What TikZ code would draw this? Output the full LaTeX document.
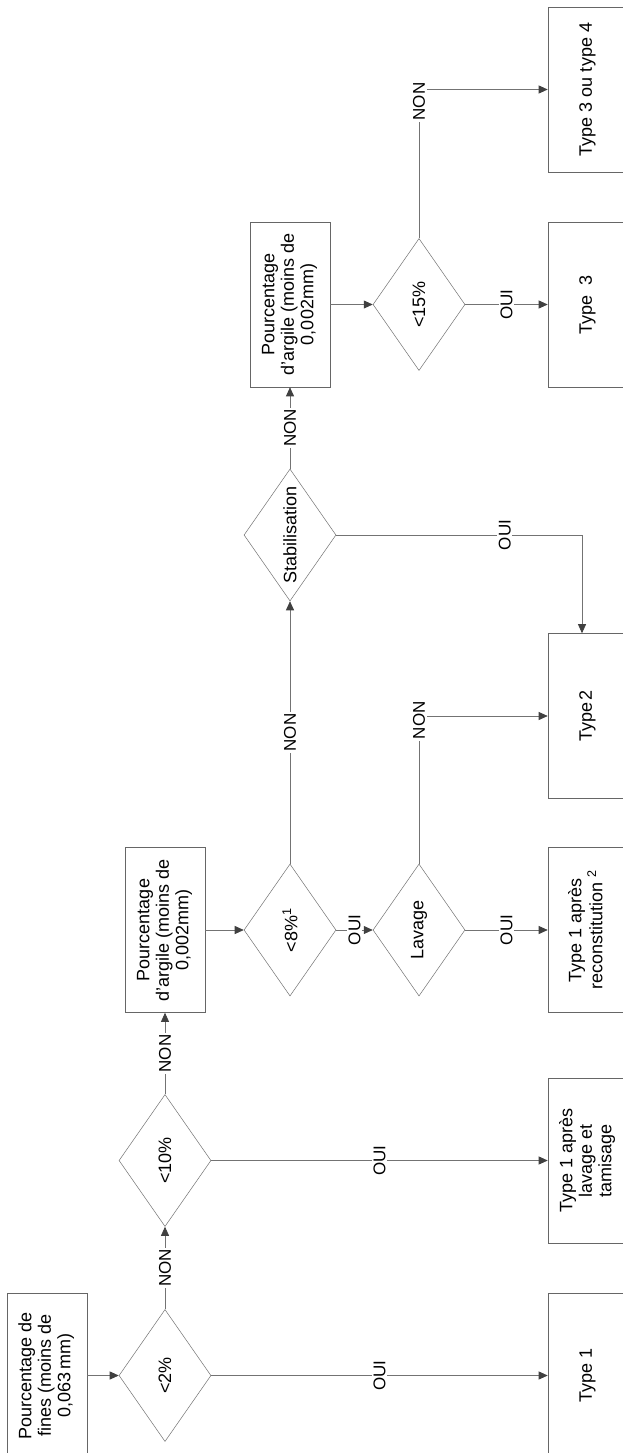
\documentclass[tikz,border=0pt]{standalone}
\usepackage{fontspec}
\setmainfont{Liberation Sans}
\usetikzlibrary{shapes.geometric,arrows.meta}
\newcommand{\rottxt}[1]{\rotatebox{90}{\begin{tabular}{@{}c@{}}#1\end{tabular}}}
\newcommand{\rotlab}[1]{\rotatebox{90}{#1}}
\begin{document}
\begin{tikzpicture}[x=1pt,y=-1pt,
  box/.style={draw=black!60, line width=0.6pt, rectangle, minimum width=80pt, minimum height=165pt, inner sep=0pt, font=\fontsize{18}{19.5}\selectfont},
  dec/.style={draw=black!55, line width=0.5pt, diamond, minimum width=92pt, minimum height=132pt, inner sep=0pt, aspect=0.7, font=\fontsize{18}{19.5}\selectfont},
  conn/.style={draw=black!55, line width=0.7pt, -{Triangle[length=9pt,width=8pt,color=black!75]}},
  lbl/.style={fill=white, inner sep=1.5pt, font=\fontsize{17}{18}\selectfont},
]
\useasboundingbox (0,0) rectangle (623,1453);
\fill[white] (0,0) rectangle (623,1453);

% nodes
\node[box] (b1) at (47,1375.5) {\rottxt{Pourcentage de\\fines (moins de\\0,063\,mm)}};
\node[dec] (d2) at (165,1375.5) {\rotlab{<2\%}};
\node[box] (t1) at (588,1375.5) {\rottxt{Type 1}};
\node[dec] (d10) at (165,1160.5) {\rotlab{<10\%}};
\node[box] (t1l) at (588,1160.5) {\rottxt{Type 1 après\\lavage et\\tamisage}};
\node[box] (b2) at (165,930) {\rottxt{Pourcentage\\d’argile (moins de\\0,002mm)}};
\node[dec] (d8) at (290,930) {\rotlab{<8\%\textsuperscript{1}}};
\node[dec] (lav) at (419,930) {\rotlab{Lavage}};
\node[box] (t1r) at (588,930) {\rottxt{Type 1 après\\reconstitution \textsuperscript{2}}};
\node[dec] (stab) at (290,535) {\rotlab{Stabilisation}};
\node[box] (t2) at (588,716) {\rottxt{Type\hspace{2.5pt}2}};
\node[box] (b3) at (290,304.5) {\rottxt{Pourcentage\\d’argile (moins de\\0,002mm)}};
\node[dec] (d15) at (419,304.5) {\rotlab{<15\%}};
\node[box] (t3) at (588,304.5) {\rottxt{Type\ \ 3}};
\node[box] (t34) at (588,89.5) {\rottxt{Type 3 ou type 4}};

% connectors
\draw[conn] (b1) -- (d2);
\draw[conn] (d2) -- node[lbl]{\rotlab{OUI}} (t1);
\draw[conn] (d2) -- node[lbl]{\rotlab{NON}} (d10);
\draw[conn] (d10) -- node[lbl]{\rotlab{OUI}} (t1l);
\draw[conn] (d10) -- node[lbl]{\rotlab{NON}} (b2);
\draw[conn] (b2) -- (d8);
\draw[conn] (d8) -- node[lbl]{\rotlab{OUI}} (lav);
\draw[conn] (lav) -- node[lbl]{\rotlab{OUI}} (t1r);
\draw[conn] (d8) -- node[lbl]{\rotlab{NON}} (stab);
\draw[conn] (lav.north) |- node[lbl,pos=0.486]{\rotlab{NON}} (t2.west);
\draw[conn] (stab.east) -| node[lbl,pos=0.343]{\rotlab{OUI}} ([xshift=-6pt]t2.north);
\draw[conn] (stab) -- node[lbl]{\rotlab{NON}} (b3);
\draw[conn] (b3) -- (d15);
\draw[conn] (d15) -- node[lbl]{\rotlab{OUI}} (t3);
\draw[conn] (d15.north) |- node[lbl,pos=0.46]{\rotlab{NON}} (t34.west);
\end{tikzpicture}
\end{document}
